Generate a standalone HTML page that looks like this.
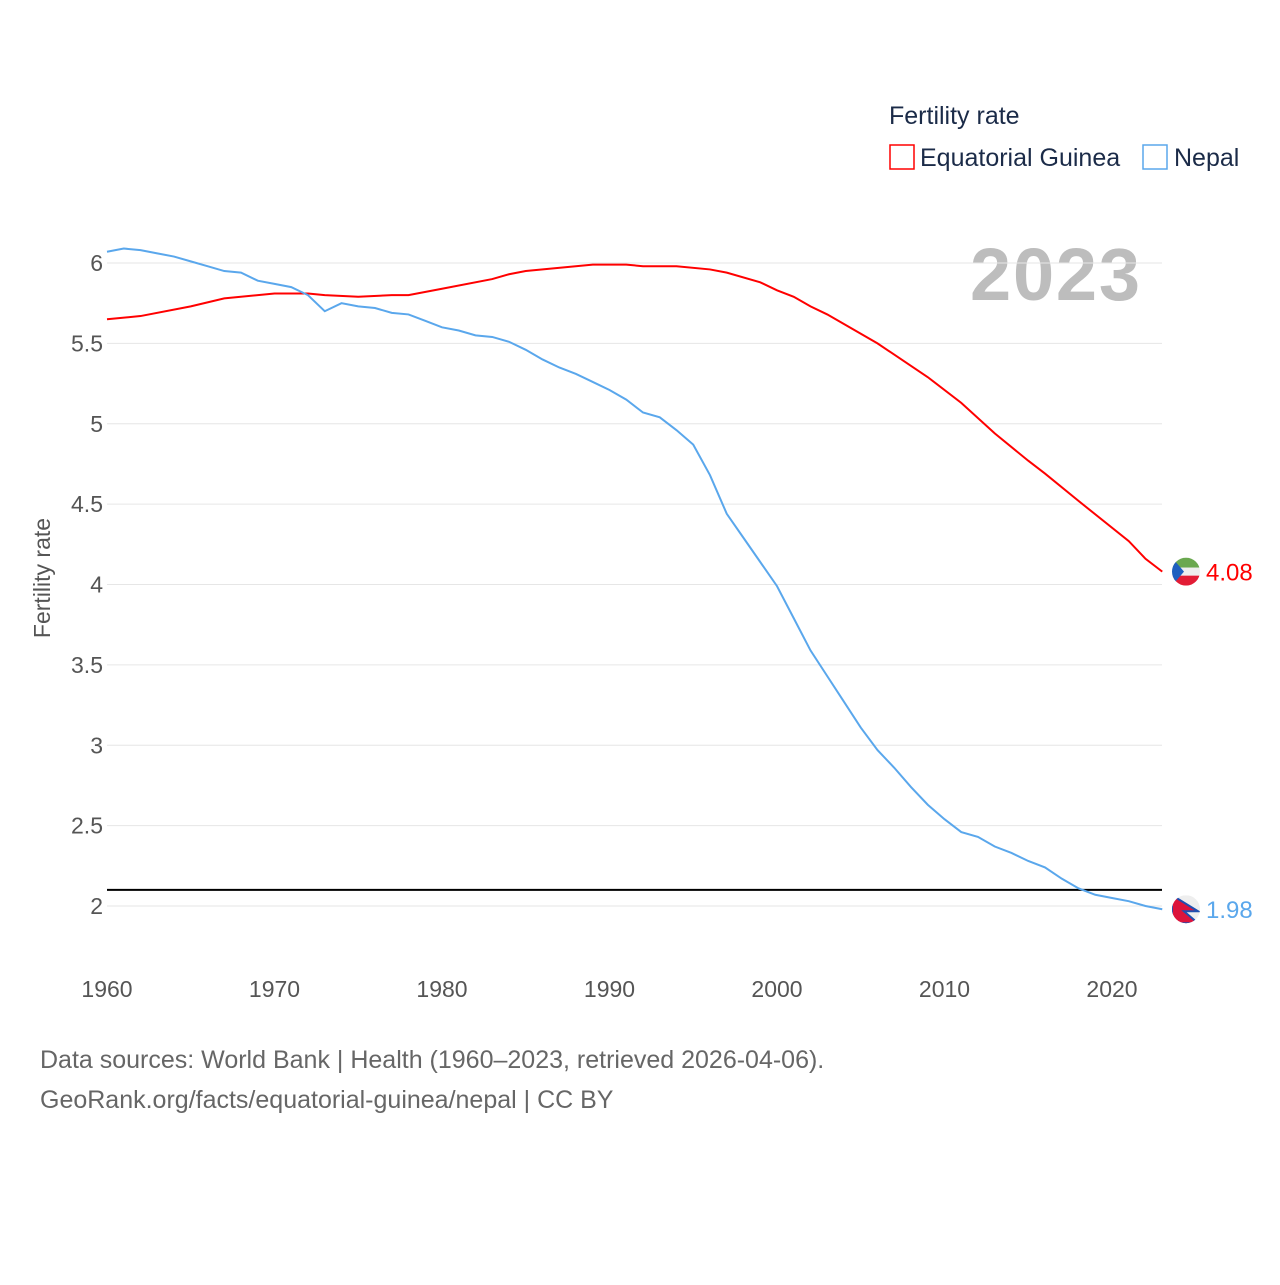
<!DOCTYPE html>
<html><head><meta charset="utf-8"><style>
body{margin:0;background:#fff;font-family:"Liberation Sans",sans-serif}
svg text{font-family:"Liberation Sans",sans-serif}
</style></head><body>
<svg id="c" width="1280" height="1280" xmlns="http://www.w3.org/2000/svg">
<text x="889" y="124" font-size="25" fill="#1b2b48">Fertility rate</text>
<g><rect x="890" y="145" width="24" height="24" fill="none" stroke="#f00" stroke-width="1.5"/><text x="920" y="166" font-size="25" fill="#1b2b48">Equatorial Guinea</text></g>
<g><rect x="1143" y="145" width="24" height="24" fill="none" stroke="#5aa7ec" stroke-width="1.5"/><text x="1174" y="166" font-size="25" fill="#1b2b48">Nepal</text></g>
<text x="1140" y="300" font-size="74" font-weight="bold" fill="#bdbdbd" text-anchor="end" textLength="170">2023</text>
<text transform="translate(50,578) rotate(-90)" font-size="23" fill="#555" text-anchor="middle">Fertility rate</text>
<g id="grid"></g><g id="lines"></g>
<text x="40" y="1068" font-size="25" fill="#666">Data sources: World Bank | Health (1960–2023, retrieved 2026-04-06).</text>
<text x="40" y="1108" font-size="25" fill="#666">GeoRank.org/facts/equatorial-guinea/nepal | CC BY</text>
</svg>
<script>
const yTicks=[2,2.5,3,3.5,4,4.5,5,5.5,6];
const xTicks=[1960,1970,1980,1990,2000,2010,2020];
const years=[];for(let y=1960;y<=2023;y++)years.push(y);
const eqYears=[1960,1962,1965,1967,1970,1972,1973,1975,1977,1978,1980,1983,1984,1985,1989,1991,1992,1994,1996,1997,1999,2000,2001,2002,2003,2006,2009,2011,2013,2015,2016,2018,2021,2022,2023];
const eqVals=[5.65,5.67,5.73,5.78,5.81,5.81,5.80,5.79,5.80,5.80,5.84,5.90,5.93,5.95,5.99,5.99,5.98,5.98,5.96,5.94,5.88,5.83,5.79,5.73,5.68,5.50,5.29,5.13,4.94,4.77,4.69,4.52,4.27,4.16,4.08];
const npVals=[6.07,6.09,6.08,6.06,6.04,6.01,5.98,5.95,5.94,5.89,5.87,5.85,5.80,5.70,5.75,5.73,5.72,5.69,5.68,5.64,5.60,5.58,5.55,5.54,5.51,5.46,5.40,5.35,5.31,5.26,5.21,5.15,5.07,5.04,4.96,4.87,4.68,4.44,4.29,4.14,3.99,3.79,3.59,3.43,3.27,3.11,2.97,2.86,2.74,2.63,2.54,2.46,2.43,2.37,2.33,2.28,2.24,2.17,2.11,2.07,2.05,2.03,2.00,1.98];
const refVal=2.1;
const X=y=>107+(y-1960)*16.75, Y=v=>906-(v-2)*160.75;
const NS='http://www.w3.org/2000/svg';
function mk(t,a,p){const e=document.createElementNS(NS,t);for(const k in a)e.setAttribute(k,a[k]);p.appendChild(e);return e;}
const g=document.getElementById('grid'),L=document.getElementById('lines');
yTicks.forEach(v=>{const l=mk('line',{x1:107,x2:1162,y1:Y(v),y2:Y(v),stroke:'#e6e6e6'},g);


const t=mk('text',{x:103,y:Y(v)+8,'font-size':23,fill:'#555','text-anchor':'end'},g);t.textContent=v;

});
xTicks.forEach(v=>{const t=mk('text',{x:X(v),y:997,'font-size':23,fill:'#555','text-anchor':'middle'},g);t.textContent=v;

});
const ref=mk('line',{x1:107,x2:1162,y1:Y(refVal),y2:Y(refVal),stroke:'#000','stroke-width':2},L);


const p1=mk('polyline',{points:eqYears.map((y,i)=>X(y)+','+Y(eqVals[i])).join(' '),fill:'none',stroke:'#f00','stroke-width':2},L);


const p2=mk('polyline',{points:years.map((y,i)=>X(y)+','+Y(npVals[i])).join(' '),fill:'none',stroke:'#5aa7ec','stroke-width':2},L);


function endLabel(v,col,name,flag){const cy=Y(v);
const f=mk('g',{},L);
mk('clipPath',{id:'cl'+name},f);const cp=f.lastChild;mk('circle',{cx:1186,cy:cy,r:14},cp);
const gg=mk('g',{'clip-path':'url(#cl'+name+')'},f);
if(flag==='eg'){mk('rect',{x:1172,y:cy-14,width:28,height:10,fill:'#6aa84f'},gg);mk('rect',{x:1172,y:cy-4,width:28,height:8,fill:'#eee'},gg);mk('rect',{x:1172,y:cy+4,width:28,height:10,fill:'#e21c35'},gg);mk('polygon',{points:`1172,${cy-14} 1184,${cy} 1172,${cy+14}`,fill:'#1f5fbf'},gg);}
else{mk('rect',{x:1172,y:cy-14,width:28,height:28,fill:'#eee'},gg);mk('polygon',{points:`1172,${cy-14} 1198,${cy+2} 1184,${cy+2} 1198,${cy+14} 1172,${cy+14}`,fill:'#dc143c',stroke:'#1f4fb0','stroke-width':2},gg);}
const t=mk('text',{x:1206,y:cy+9,'font-size':24,fill:col},L);t.textContent=v.toFixed(2);

}
endLabel(eqVals[eqVals.length-1],'#f00','equatorial-guinea','eg');
endLabel(npVals[npVals.length-1],'#5aa7ec','nepal','np');
</script>
</body></html>
